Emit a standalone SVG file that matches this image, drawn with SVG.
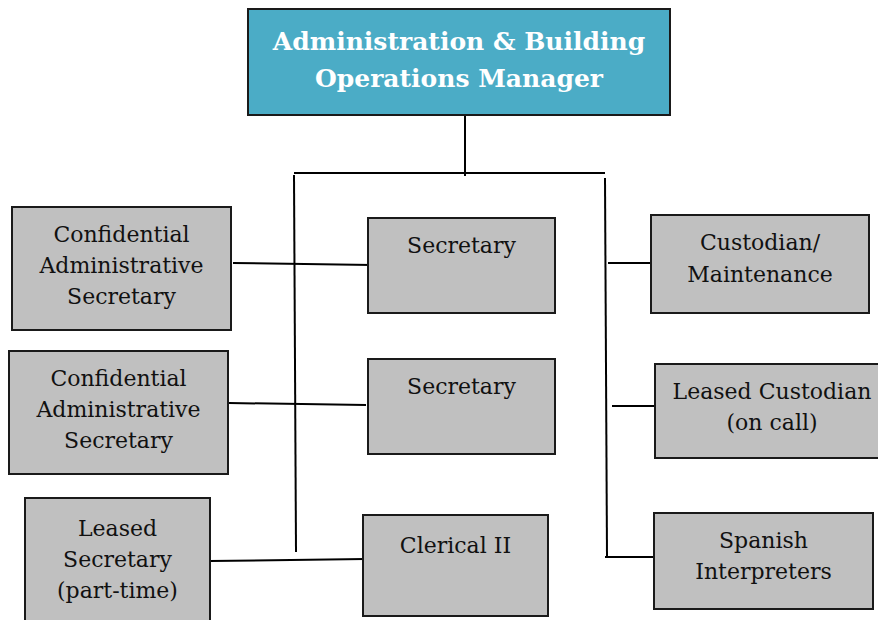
<svg xmlns="http://www.w3.org/2000/svg" width="878" height="620" viewBox="0 0 878 620">
<style>
.box{fill:#c0c0c0;stroke:#1a1a1a;stroke-width:2}
.top{fill:#4bacc6;stroke:#1a1a1a;stroke-width:2}
.t{font-family:'DejaVu Serif',serif;font-size:22px;fill:#111;text-anchor:middle}
.tt{font-family:'DejaVu Serif',serif;font-size:25px;font-weight:bold;fill:#fff;text-anchor:middle}
.c{stroke:#000;stroke-width:2;fill:none}
</style>
<rect width="878" height="620" fill="#fff"/>
<g id="connectors">
<line class="c" x1="465" y1="115" x2="465" y2="176"/>
<line class="c" x1="294" y1="173" x2="605" y2="173"/>
<line class="c" x1="294" y1="175" x2="296" y2="552"/>
<line class="c" x1="605" y1="178" x2="607" y2="556"/>
<line class="c" x1="233" y1="263" x2="372" y2="265"/>
<line class="c" x1="229" y1="403" x2="366" y2="405"/>
<line class="c" x1="210" y1="561" x2="365" y2="559"/>
<line class="c" x1="608" y1="263" x2="652" y2="263"/>
<line class="c" x1="612" y1="406" x2="655" y2="406"/>
<line class="c" x1="605" y1="557" x2="653" y2="557"/>
</g>
<g id="manager">
<rect class="top" x="248" y="9" width="422" height="106"/>
<text class="tt" x="459" y="50">Administration &amp; Building</text>
<text class="tt" x="459" y="87">Operations Manager</text>
</g>
<g id="conf1">
<rect class="box" x="12" y="207" width="219" height="123"/>
<text class="t" x="121.5" y="242">Confidential</text>
<text class="t" x="121.5" y="273">Administrative</text>
<text class="t" x="121.5" y="304">Secretary</text>
</g>
<g id="conf2">
<rect class="box" x="9" y="351" width="219" height="123"/>
<text class="t" x="118.5" y="386">Confidential</text>
<text class="t" x="118.5" y="417">Administrative</text>
<text class="t" x="118.5" y="448">Secretary</text>
</g>
<g id="leased-secretary">
<rect class="box" x="25" y="498" width="185" height="130"/>
<text class="t" x="117.5" y="536">Leased</text>
<text class="t" x="117.5" y="567">Secretary</text>
<text class="t" x="117.5" y="598">(part-time)</text>
</g>
<g id="secretary1">
<rect class="box" x="368" y="218" width="187" height="95"/>
<text class="t" x="461.5" y="253">Secretary</text>
</g>
<g id="secretary2">
<rect class="box" x="368" y="359" width="187" height="95"/>
<text class="t" x="461.5" y="394">Secretary</text>
</g>
<g id="clerical">
<rect class="box" x="363" y="515" width="185" height="101"/>
<text class="t" x="455.5" y="553">Clerical II</text>
</g>
<g id="custodian">
<rect class="box" x="651" y="215" width="218" height="98"/>
<text class="t" x="760" y="250">Custodian/</text>
<text class="t" x="760" y="282">Maintenance</text>
</g>
<g id="leased-custodian">
<rect class="box" x="655" y="364" width="235" height="94"/>
<text class="t" x="772" y="399">Leased Custodian</text>
<text class="t" x="772" y="430">(on call)</text>
</g>
<g id="spanish">
<rect class="box" x="654" y="513" width="219" height="96"/>
<text class="t" x="763.5" y="548">Spanish</text>
<text class="t" x="763.5" y="579">Interpreters</text>
</g>
</svg>
